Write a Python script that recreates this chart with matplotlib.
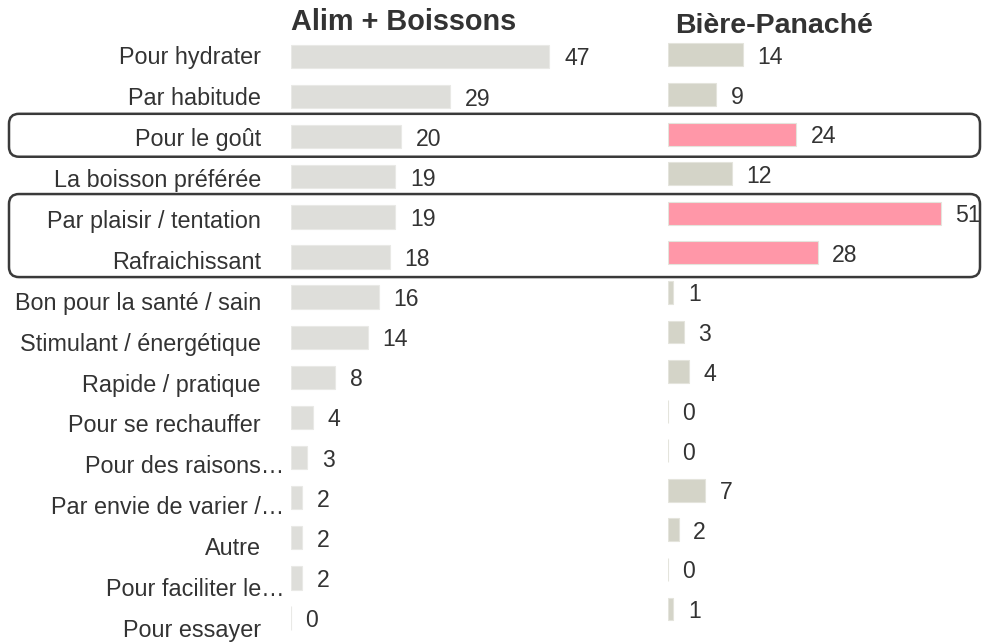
import matplotlib
matplotlib.use("Agg")
import matplotlib.pyplot as plt
from matplotlib.patches import FancyBboxPatch
from matplotlib.transforms import IdentityTransform

plt.rcParams['font.family'] = ['Liberation Sans', 'DejaVu Sans']

categories = ['Pour hydrater', 'Par habitude', 'Pour le goût', 'La boisson préférée',
              'Par plaisir / tentation', 'Rafraichissant', 'Bon pour la santé / sain',
              'Stimulant / énergétique', 'Rapide / pratique', 'Pour se rechauffer',
              'Pour des raisons…', 'Par envie de varier /…', 'Autre',
              'Pour faciliter le…', 'Pour essayer']
alim = [47, 29, 20, 19, 19, 18, 16, 14, 8, 4, 3, 2, 2, 2, 0]
biere = [14, 9, 24, 12, 51, 28, 1, 3, 4, 0, 0, 7, 2, 0, 1]
highlight = [False, False, True, False, True, True, False, False, False,
             False, False, False, False, False, False]
groups = [[2], [4, 5]]  # rows framed by a box

txt = '#333333'
grey_l = '#dededa'
grey_r = '#d4d4c8'
pink = '#ff97a8'

fig = plt.figure(figsize=(9.82, 6.42), dpi=100)
ax1 = fig.add_axes([0.2963, 0.0061, 0.2800, 0.9372])
ax2 = fig.add_axes([0.6802, 0.0206, 0.2994, 0.9246])

y = list(range(len(categories)))

ax1.barh(y, alim, height=0.58, color=grey_l, edgecolor='#e9e9e6', linewidth=0.8)
cols = [pink if h else grey_r for h in highlight]
ax2.barh(y, biere, height=0.58, color=cols, edgecolor='#e4e4dc', linewidth=0.8)

for ax, vals, lim in [(ax1, alim, 50), (ax2, biere, 55)]:
    ax.set_xlim(0, lim)
    ax.set_ylim(len(categories) - 0.5, -0.5)
    ax.axis('off')
    for i, v in enumerate(vals):
        ax.annotate(str(v), xy=(v, i), xytext=(10.5, 0), textcoords='offset points',
                    ha='left', va='center_baseline', fontsize=16.6, color=txt)

# category labels, slight drift downwards like the original
for i, c in enumerate(categories):
    dx = -5 if c.endswith('…') else -21.6
    ax1.annotate(c, xy=(0, i), xycoords=('axes fraction', 'data'),
                 xytext=(dx, -(i - 2) * 0.62), textcoords='offset points',
                 ha='right', va='center_baseline', fontsize=16.8, color=txt)

ax1.text(0, 1.0, 'Alim + Boissons', transform=ax1.transAxes, fontsize=20.8,
         fontweight='bold', color=txt, ha='left', va='bottom')
fig.text(675 / 982, 1 - 33 / 642, 'Bière-Panaché', fontsize=20.5,
         fontweight='bold', color=txt, ha='left', va='baseline')

# rounded frames around highlighted rows
fig.canvas.draw()
for g in groups:
    top = ax1.transData.transform((0, g[0] - 0.57))[1]
    bot = ax1.transData.transform((0, g[-1] + 0.5))[1]
    x0, x1 = 9, 980
    box = FancyBboxPatch((x0, bot), x1 - x0, top - bot,
                         boxstyle='round,pad=0,rounding_size=10',
                         transform=IdentityTransform(), fill=False,
                         edgecolor='#3a3a3a', linewidth=1.8)
    fig.add_artist(box)

fig.savefig('out.png', dpi=100)
